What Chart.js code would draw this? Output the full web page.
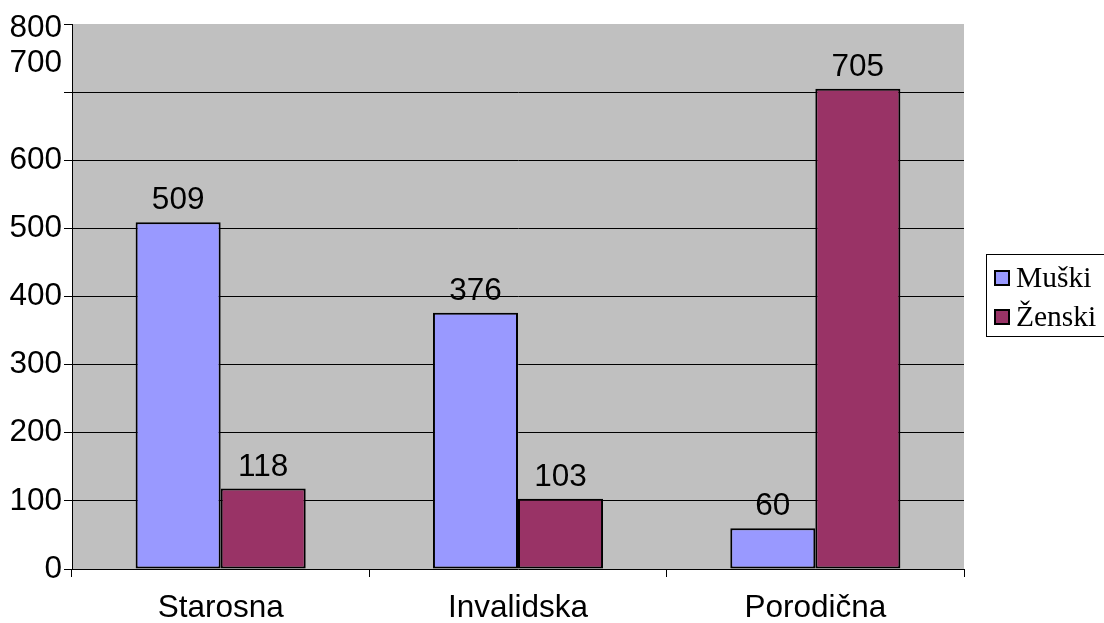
<!DOCTYPE html>
<html>
<head>
<meta charset="utf-8">
<script src="https://cdn.jsdelivr.net/npm/chart.js@4/dist/chart.umd.min.js"></script>
<style>
  html, body { margin: 0; padding: 0; background: #fff; }
  #wrap { width: 1104px; height: 623px; position: relative; }
</style>
</head>
<body>
<div id="wrap"><canvas id="grafica" width="1104" height="623"></canvas></div>
<script>
// datos
const categorias = ["Starosna", "Invalidska", "Porodična"];
const muski = [509, 376, 60];
const zenski = [118, 103, 705];
const nombresSeries = ["Muški", "Ženski"];
const yMax = 800;
const yPaso = 100;

const SANS = "'Liberation Sans', Arial, sans-serif";
const SERIF = "'Liberation Serif', 'Times New Roman', serif";
const TAM = 31.5;

// fondo gris del area del grafico
const fondoPlugin = {
    id: "fondo",
    beforeDraw(chart) {
        const { ctx, chartArea } = chart;
        ctx.save();
        ctx.fillStyle = "#c0c0c0";
        ctx.fillRect(chartArea.left, chartArea.top, chartArea.right - chartArea.left, chartArea.bottom - chartArea.top);
        ctx.restore();
    }
};

// etiquetas encima de las barras + etiquetas del eje y + leyenda
const etiquetasPlugin = {
    id: "etiquetas",
    afterDraw(chart) {
        const { ctx } = chart;
        ctx.save();
        ctx.font = TAM + "px " + SANS;
        ctx.fillStyle = "#000";
        ctx.textAlign = "center";
        ctx.textBaseline = "alphabetic";
        chart.data.datasets.forEach((ds, i) => {
            chart.getDatasetMeta(i).data.forEach((bar, j) => {
                ctx.fillText(String(ds.data[j]), bar.x, bar.y - 13);
            });
        });

        // eje y: "800" un poco bajo el borde y "700" pegado debajo, como en el original
        const y = chart.scales.y;
        ctx.textAlign = "right";
        ctx.textBaseline = "middle";
        y.ticks.forEach(t => {
            let py = y.getPixelForValue(t.value);
            if (t.value === yMax) py += 4;
            if (t.value === yMax - yPaso) py = y.getPixelForValue(yMax) + 39;
            ctx.fillText(String(t.value), y.right - 10, py);
        });

        // leyenda
        const lx = 986, ly = 254, lw = 118, lh = 82;
        ctx.strokeStyle = "#000";
        ctx.lineWidth = 1;
        ctx.strokeRect(lx + 0.5, ly + 0.5, lw, lh);
        ctx.font = "29.5px " + SERIF;
        ctx.textAlign = "left";
        ctx.textBaseline = "alphabetic";
        chart.data.datasets.forEach((ds, i) => {
            const fy = ly + 17 + i * 39;
            ctx.fillStyle = ds.backgroundColor;
            ctx.fillRect(lx + 9, fy, 14, 14);
            ctx.lineWidth = 2;
            ctx.strokeRect(lx + 9, fy, 14, 14);
            ctx.fillStyle = "#000";
            ctx.fillText(ds.label, lx + 30, fy + 16);
        });
        ctx.restore();
    }
};

new Chart(document.getElementById("grafica"), {
    type: "bar",
    data: {
        labels: categorias,
        datasets: [
            {
                label: nombresSeries[0],
                data: muski,
                backgroundColor: "#9999ff",
                borderColor: "#000",
                borderWidth: 2,
                borderSkipped: false
            },
            {
                label: nombresSeries[1],
                data: zenski,
                backgroundColor: "#993366",
                borderColor: "#000",
                borderWidth: 2,
                borderSkipped: false
            }
        ]
    },
    options: {
        responsive: false,
        animation: false,
        devicePixelRatio: 1,
        layout: { padding: { top: 24, right: 140, bottom: 0, left: 0 } },
        datasets: {
            bar: { categoryPercentage: 0.572, barPercentage: 1 }
        },
        plugins: {
            legend: { display: false },
            tooltip: { enabled: false }
        },
        scales: {
            x: {
                offset: true,
                afterFit(scale) { scale.height = 54; },
                grid: {
                    offset: true,
                    drawOnChartArea: false,
                    color: "#000",
                    tickLength: 8
                },
                border: { color: "#000", width: 1 },
                ticks: {
                    color: "#000",
                    font: { family: SANS, size: TAM },
                    padding: 12,
                    maxRotation: 0
                }
            },
            y: {
                min: 0,
                max: yMax,
                afterFit(scale) { scale.width = 72; },
                grid: {
                    color: c => (c.tick && (c.tick.value === 0 || c.tick.value === yMax)) ? "rgba(0,0,0,0)" : "#000",
                    tickColor: "#000",
                    tickLength: 8
                },
                border: { color: "#000", width: 1 },
                ticks: {
                    stepSize: yPaso,
                    color: "rgba(0,0,0,0)",
                    font: { family: SANS, size: TAM },
                    padding: 2
                }
            }
        }
    },
    plugins: [fondoPlugin, etiquetasPlugin]
});
</script>
</body>
</html>
